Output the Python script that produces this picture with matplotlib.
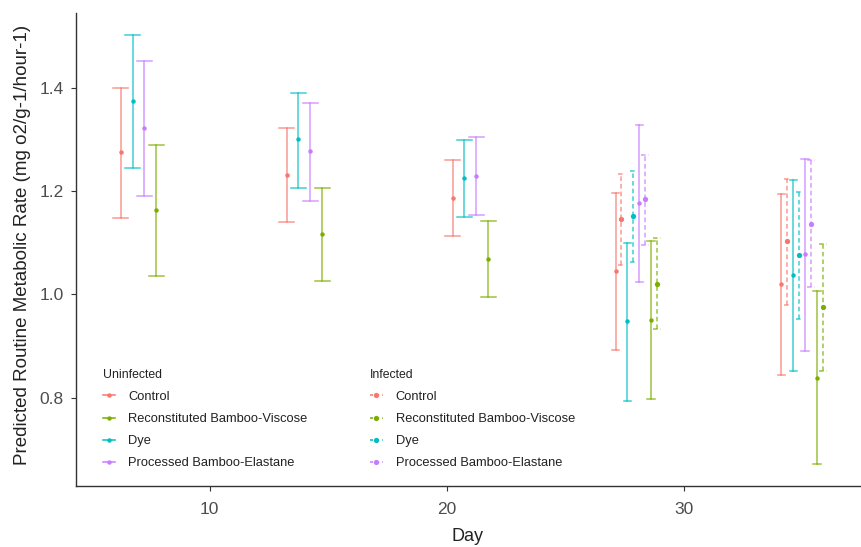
import matplotlib
matplotlib.use("Agg")
import matplotlib.pyplot as plt
from matplotlib.lines import Line2D

plt.rcParams['font.family'] = ['Liberation Sans', 'DejaVu Sans']

days = [7, 14, 21, 28, 35]
treatments = ["Control", "Reconstituted Bamboo-Viscose", "Dye", "Processed Bamboo-Elastane"]
colors = ["#F8766D", "#7CAE00", "#00BFC4", "#C77CFF"]
dodge_rank = [0, 3, 1, 2]  # left-to-right order within a day: Control, Dye, Processed, Recon

# Uninfected (all days)
control_u = [1.275, 1.231, 1.187, 1.046, 1.020]
control_u_lo = [1.148, 1.140, 1.113, 0.892, 0.844]
control_u_hi = [1.399, 1.321, 1.260, 1.197, 1.195]

recon_u = [1.164, 1.117, 1.069, 0.950, 0.839]
recon_u_lo = [1.035, 1.025, 0.995, 0.798, 0.672]
recon_u_hi = [1.288, 1.206, 1.142, 1.103, 1.006]

dye_u = [1.375, 1.300, 1.225, 0.948, 1.038]
dye_u_lo = [1.245, 1.206, 1.150, 0.794, 0.851]
dye_u_hi = [1.502, 1.390, 1.298, 1.099, 1.222]

proc_u = [1.322, 1.277, 1.229, 1.177, 1.079]
proc_u_lo = [1.191, 1.181, 1.153, 1.024, 0.891]
proc_u_hi = [1.452, 1.371, 1.304, 1.327, 1.261]

# Infected (days 28 and 35 only)
inf_days = [28, 35]
control_i = [1.145, 1.103]
control_i_lo = [1.057, 0.979]
control_i_hi = [1.232, 1.223]

recon_i = [1.021, 0.976]
recon_i_lo = [0.933, 0.852]
recon_i_hi = [1.109, 1.097]

dye_i = [1.151, 1.077]
dye_i_lo = [1.063, 0.953]
dye_i_hi = [1.239, 1.199]

proc_i = [1.184, 1.137]
proc_i_lo = [1.095, 1.014]
proc_i_hi = [1.270, 1.260]

uninf = [(control_u, control_u_lo, control_u_hi), (recon_u, recon_u_lo, recon_u_hi),
         (dye_u, dye_u_lo, dye_u_hi), (proc_u, proc_u_lo, proc_u_hi)]
infd = [(control_i, control_i_lo, control_i_hi), (recon_i, recon_i_lo, recon_i_hi),
        (dye_i, dye_i_lo, dye_i_hi), (proc_i, proc_i_lo, proc_i_hi)]

DODGE = 2.0
CAPW = 2.5

fig = plt.figure(figsize=(8.62, 5.47), dpi=100)
ax = fig.add_axes([0.0878, 0.112, 0.9102, 0.864])

def draw(x, m, lo, hi, col, ls, capw, ms):
    dash = (3, 2) if ls == '--' else (None, None)
    ax.plot([x, x], [lo, hi], color=col, ls=ls, lw=1.1, alpha=0.75, dashes=dash)
    for v in (lo, hi):
        ax.plot([x - capw / 2, x + capw / 2], [v, v], color=col, ls=ls, lw=1.1, alpha=0.75,
                dashes=dash)
    ax.plot([x], [m], 'o', color=col, ms=ms, mew=0)

for di, d in enumerate(days):
    has_inf = d in inf_days
    n = 8 if has_inf else 4
    for t in range(4):
        r = dodge_rank[t]
        k = r * 2 if has_inf else r
        off = -DODGE / 2 + (k + 0.5) * DODGE / n
        m, lo, hi = (s[di] for s in uninf[t])
        draw(d + off, m, lo, hi, colors[t], '-', CAPW / n, 3.2)
        if has_inf:
            ii = inf_days.index(d)
            off2 = -DODGE / 2 + (k + 1.5) * DODGE / n
            m, lo, hi = (s[ii] for s in infd[t])
            draw(d + off2, m, lo, hi, colors[t], '--', CAPW / n, 3.8)

ax.set_xlim(4.35, 37.45)
ax.set_ylim(0.630, 1.544)
ax.set_xticks([10, 20, 30])
ax.set_yticks([0.8, 1.0, 1.2, 1.4])
ax.set_yticklabels(["0.8", "1.0", "1.2", "1.4"])
for s in ["top", "right"]:
    ax.spines[s].set_visible(False)
for s in ["left", "bottom"]:
    ax.spines[s].set_color("#333333")
    ax.spines[s].set_linewidth(1.0)
ax.tick_params(axis='both', colors="#333333", length=3.5, width=0.8, labelsize=12.5,
               labelcolor="#4D4D4D")
ax.tick_params(axis='x', pad=8)
ax.tick_params(axis='y', pad=5)
ax.set_xlabel("Day", fontsize=13, color="#222222", labelpad=8)
ax.set_ylabel("Predicted Routine Metabolic Rate (mg o2/g-1/hour-1)", fontsize=13.5,
              color="#222222", labelpad=10)
ax.yaxis.set_label_coords(-0.057, 0.51)

legfam = ['Liberation Sans', 'DejaVu Sans']

def make_legend(title, ls, ms, anchor):
    dash = (2, 2) if ls == '--' else (None, None)
    handles = [Line2D([], [], color=c, ls=ls, lw=1.1, marker='o', ms=ms, mew=0,
                      dashes=dash) for c in colors]
    leg = fig.legend(handles, treatments, title=title, loc='upper left', bbox_to_anchor=anchor,
                     frameon=False, prop={'family': legfam, 'size': 9.3},
                     title_fontproperties={'family': legfam, 'size': 8.8},
                     handlelength=1.0, handletextpad=1.0, labelspacing=0.78,
                     borderaxespad=0, borderpad=0)
    leg._legend_box.align = "left"
    leg._legend_box.sep = 7
    for t in leg.get_texts():
        t.set_color("#222222")
    leg.get_title().set_color("#222222")
    return leg

make_legend("Uninfected", '-', 3.2, (0.119, 0.325))
make_legend("Infected", '--', 3.8, (0.429, 0.325))

fig.savefig("out.png", dpi=100)
